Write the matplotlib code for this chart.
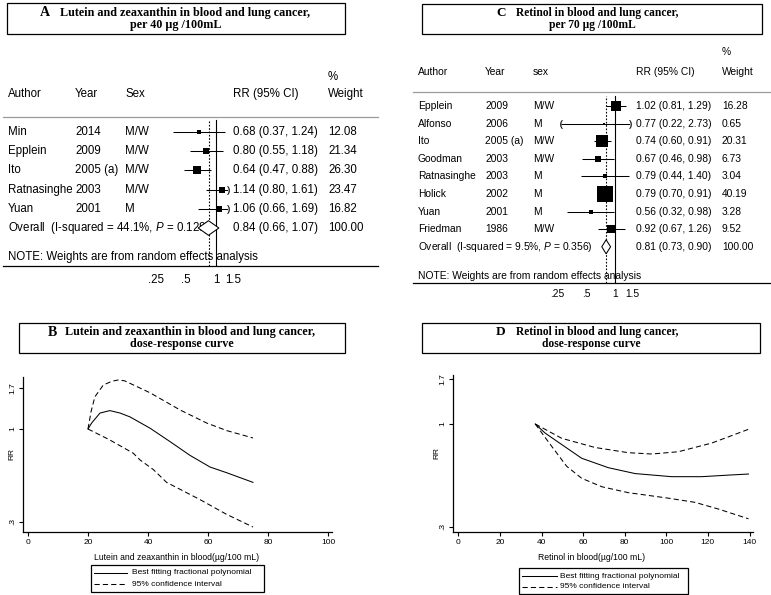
import numpy as np
import matplotlib

matplotlib.use("Agg")
import matplotlib.pyplot as plt
from matplotlib.patches import Rectangle
from matplotlib.ticker import NullLocator
from matplotlib.transforms import blended_transform_factory as blend

# ---- panel A: lutein/zeaxanthin forest plot ----
A_AUTHORS = ["Min", "Epplein", "Ito", "Ratnasinghe", "Yuan"]
A_YEARS = ["2014", "2009", "2005 (a)", "2003", "2001"]
A_SEX = ["M/W", "M/W", "M/W", "M/W", "M"]
A_RR = [0.68, 0.80, 0.64, 1.14, 1.06]
A_LO = [0.37, 0.55, 0.47, 0.80, 0.66]
A_HI = [1.24, 1.18, 0.88, 1.61, 1.69]
A_WEIGHT = [12.08, 21.34, 26.30, 23.47, 16.82]
A_OVERALL = [0.84, 0.66, 1.07]
A_I2, A_P = "44.1%", "0.128"

# ---- panel C: retinol forest plot ----
C_AUTHORS = ["Epplein", "Alfonso", "Ito", "Goodman", "Ratnasinghe", "Holick", "Yuan", "Friedman"]
C_YEARS = ["2009", "2006", "2005 (a)", "2003", "2003", "2002", "2001", "1986"]
C_SEX = ["M/W", "M", "M/W", "M/W", "M", "M", "M", "M/W"]
C_RR = [1.02, 0.77, 0.74, 0.67, 0.79, 0.79, 0.56, 0.92]
C_LO = [0.81, 0.22, 0.60, 0.46, 0.44, 0.70, 0.32, 0.67]
C_HI = [1.29, 2.73, 0.91, 0.98, 1.40, 0.91, 0.98, 1.26]
C_WEIGHT = [16.28, 0.65, 20.31, 6.73, 3.04, 40.19, 3.28, 9.52]
C_OVERALL = [0.81, 0.73, 0.90]
C_I2, C_P = "9.5%", "0.356"

FOREST_TICKS = [0.25, 0.5, 1, 1.5]
FOREST_TICK_LABELS = [".25", ".5", "1", "1.5"]

# ---- panel B: lutein/zeaxanthin dose-response ----
B_FIT_X = [20, 21.2, 24, 27.3, 30.7, 34, 40.7, 47.3, 54, 60.7, 66.2, 75]
B_FIT_RR = [1.0, 1.08, 1.23, 1.27, 1.23, 1.17, 1.01, 0.85, 0.71, 0.61, 0.567, 0.50]
B_UP_X = [20, 21, 22.3, 25.1, 28, 30.1, 32.2, 40.7, 50.7, 59.6, 66.2, 75]
B_UP_RR = [1.0, 1.25, 1.52, 1.77, 1.86, 1.89, 1.87, 1.60, 1.28, 1.08, 0.98, 0.89]
B_LO_X = [20, 27.3, 35.1, 37.3, 41.8, 46.2, 57.3, 66.2, 75]
B_LO_RR = [1.0, 0.867, 0.73, 0.67, 0.59, 0.50, 0.40, 0.33, 0.28]
B_XTICKS = [0, 20, 40, 60, 80, 100]

# ---- panel D: retinol dose-response ----
D_FIT_X = [37, 41.7, 46.5, 59.3, 72.1, 85, 102.6, 117, 129.8, 139.5]
D_FIT_RR = [1.0, 0.90, 0.83, 0.67, 0.60, 0.56, 0.54, 0.54, 0.55, 0.557]
D_UP_X = [37, 49.7, 65.7, 81.7, 93, 105.8, 121.8, 129.8, 139.5]
D_UP_RR = [1.0, 0.846, 0.76, 0.715, 0.704, 0.723, 0.80, 0.86, 0.94]
D_LO_X = [37, 44.9, 52.1, 59.3, 69, 81.7, 101, 113.8, 125, 139.5]
D_LO_RR = [1.0, 0.77, 0.61, 0.53, 0.48, 0.448, 0.42, 0.40, 0.37, 0.33]
D_XTICKS = [0, 20, 40, 60, 80, 100, 120, 140]

DR_YTICKS = [0.3, 1, 1.7]
DR_YTICK_LABELS = [".3", "1", "1.7"]

W, H = 771, 595
SERIF = "Liberation Serif"
DASH = (0, (5, 3))
SEP_GRAY = "#9a9a9a"

plt.rcParams.update({
    "font.family": ["Liberation Sans", "DejaVu Sans"],
    "mathtext.fontset": "custom",
    "mathtext.it": "Liberation Sans:italic",
    "mathtext.rm": "Liberation Sans",
})

fig = plt.figure(figsize=(W / 100, H / 100), dpi=100)
ov = fig.add_axes([0, 0, 1, 1])
ov.set_xlim(0, W)
ov.set_ylim(H, 0)
ov.axis("off")


def px_axes(x0, y0, x1, y1):
    ax = fig.add_axes([x0 / W, 1 - y1 / H, (x1 - x0) / W, (y1 - y0) / H])
    ax.patch.set_visible(False)
    return ax


def fit_width(t, width_px):
    r = fig.canvas.get_renderer()
    w = t.get_window_extent(r).width
    t.set_fontsize(t.get_fontsize() * width_px / w)
    return t.get_fontsize()


def title_box(box, letter, letter_x, line1, line1_x, line1_w, line2, y1, y2):
    x0, y0, x1, y1b = box
    ov.add_patch(Rectangle((x0, y0), x1 - x0, y1b - y0, fill=False, lw=0.9, ec="black"))
    t1 = ov.text(line1_x, y1, line1, family=SERIF, weight="bold", fontsize=9,
                 ha="left", va="center")
    fs = fit_width(t1, line1_w)
    ov.text(letter_x, y1, letter, family=SERIF, weight="bold", fontsize=fs * 1.15,
            ha="left", va="center")
    ov.text((x0 + x1) / 2, y2, line2, family=SERIF, weight="bold", fontsize=fs,
            ha="center", va="center")


def draw_forest(authors, years, sexes, rr, lo, hi, weights, overall, i2, pval, *,
                left, right, top, bottom, row0, row_step, one_px, px_per_ln,
                cols, pct_y, header_y, note_y, tick_y, line_x, fs, box_scale,
                sex_label, diamond_h):
    n = len(authors)
    ax = px_axes(left, top, right, bottom)
    ax.set_xscale("log")
    xlo = np.exp((left - one_px) / px_per_ln)
    xhi = np.exp((right - one_px) / px_per_ln)
    ax.set_xlim(xlo, xhi)
    ax.set_ylim((bottom - row0) / row_step, (top - row0) / row_step)
    ax.axis("off")

    ax.axvline(1, 0, 0.98, color="black", lw=0.8)
    ax.axvline(overall[0], 0, 0.98, color="black", lw=0.8, ls=(0, (1.5, 1.5)))

    # CIs running past the labelled range get clipped with a bracket at the edge
    for i in range(n):
        l, h = lo[i], hi[i]
        l_draw = xlo if l < FOREST_TICKS[0] else l
        h_draw = xhi if h > FOREST_TICKS[-1] else h
        ax.plot([l_draw, h_draw], [i, i], color="black", lw=0.75, solid_capstyle="butt")
        if l < FOREST_TICKS[0]:
            ax.plot(xlo, i, marker="$($", ms=6, color="black", mew=0.2, clip_on=False)
        if h > FOREST_TICKS[-1]:
            ax.plot(xhi, i, marker="$)$", ms=6, color="black", mew=0.2, clip_on=False)
        ax.plot(rr[i], i, marker="s", ms=box_scale * np.sqrt(weights[i]) * 0.72,
                color="black", mew=0)

    o, olo, ohi = overall
    ax.fill([olo, o, ohi, o], [n, n - diamond_h, n, n + diamond_h],
            fc="white", ec="black", lw=0.75, zorder=4)

    tr = blend(ov.transData, ax.transData)
    for i in range(n):
        ov.text(cols[0], i, authors[i], transform=tr, fontsize=fs, va="center")
        ov.text(cols[1], i, years[i], transform=tr, fontsize=fs, va="center")
        ov.text(cols[2], i, sexes[i], transform=tr, fontsize=fs, va="center")
        ov.text(cols[3], i, f"{rr[i]:.2f} ({lo[i]:.2f}, {hi[i]:.2f})",
                transform=tr, fontsize=fs, va="center")
        ov.text(cols[4], i, f"{weights[i]:.2f}", transform=tr, fontsize=fs, va="center")
    ov.text(cols[0], n, f"Overall  (I-squared = {i2}, $P$ = {pval})",
            transform=tr, fontsize=fs, va="center")
    ov.text(cols[3], n, f"{o:.2f} ({olo:.2f}, {ohi:.2f})", transform=tr,
            fontsize=fs, va="center")
    ov.text(cols[4], n, "100.00", transform=tr, fontsize=fs, va="center")

    for x, s in zip(cols, ["Author", "Year", sex_label, "RR (95% CI)", "Weight"]):
        ov.text(x, header_y, s, fontsize=fs, va="center")
    ov.text(cols[4], pct_y, "%", fontsize=fs, va="center")
    ov.text(cols[0], note_y, "NOTE: Weights are from random effects analysis",
            fontsize=fs, va="center")

    ov.plot(line_x, [top, top], color=SEP_GRAY, lw=0.9)
    ov.plot(line_x, [bottom, bottom], color="black", lw=0.9)

    ttr = blend(ax.transData, ov.transData)
    for v, lab in zip(FOREST_TICKS, FOREST_TICK_LABELS):
        ov.text(v, tick_y, lab, transform=ttr, fontsize=fs, ha="center", va="center")


def draw_dose(box, xlim, ylim, xticks, fit, upper, lower, *, ylabel_xy, xlabel,
              xlabel_xy, legend_box, legend_ys, handle_x, text_x):
    ax = px_axes(*box)
    ax.set_yscale("log")
    ax.set_xlim(*xlim)
    ax.set_ylim(*ylim)
    for s in ("top", "right"):
        ax.spines[s].set_visible(False)
    for s in ("left", "bottom"):
        ax.spines[s].set_linewidth(0.9)
    ax.set_xticks(xticks)
    ax.set_xticklabels([str(v) for v in xticks], fontsize=6)
    ax.set_yticks(DR_YTICKS)
    ax.set_yticklabels(DR_YTICK_LABELS, fontsize=6, rotation=90, va="center")
    ax.yaxis.set_minor_locator(NullLocator())
    ax.tick_params(length=3, width=0.8, pad=2)

    ax.plot(fit[0], fit[1], color="black", lw=0.75)
    ax.plot(upper[0], upper[1], color="black", lw=0.75, ls=DASH)
    ax.plot(lower[0], lower[1], color="black", lw=0.75, ls=DASH)

    ov.text(*ylabel_xy, "RR", fontsize=6, rotation=90, ha="center", va="center")
    ov.text(*xlabel_xy, xlabel, fontsize=6.2, ha="center", va="center")

    lx0, ly0, lx1, ly1 = legend_box
    ov.add_patch(Rectangle((lx0, ly0), lx1 - lx0, ly1 - ly0, fill=False, lw=0.9, ec="black"))
    ov.plot(handle_x, [legend_ys[0]] * 2, color="black", lw=0.75)
    ov.plot(handle_x, [legend_ys[1]] * 2, color="black", lw=0.75, ls=DASH)
    ov.text(text_x, legend_ys[0], "Best fitting fractional polynomial", fontsize=6, va="center")
    ov.text(text_x, legend_ys[1], "95% confidence interval", fontsize=6, va="center")


# titles
title_box((7, 3, 345, 34), "A", 40, "Lutein and zeaxanthin in blood and lung cancer,", 60, 250,
          "per 40 \u00b5g /100mL", 13, 25)
title_box((422, 4, 762, 34), "C", 496, "Retinol in blood and lung cancer,", 516, 162,
          "per 70 \u00b5g /100mL", 13, 25)
title_box((19, 323, 345, 353), "B", 48, "Lutein and zeaxanthin in blood and lung cancer,", 65, 250,
          "dose-response curve", 332, 344)
title_box((422, 323, 760, 353), "D", 496, "Retinol in blood and lung cancer,", 516, 162,
          "dose-response curve", 332, 344)

draw_forest(A_AUTHORS, A_YEARS, A_SEX, A_RR, A_LO, A_HI, A_WEIGHT, A_OVERALL, A_I2, A_P,
            left=140, right=228, top=117, bottom=266, row0=132, row_step=19.2,
            one_px=216, px_per_ln=43, cols=[8, 75, 125, 233, 328],
            pct_y=77, header_y=94, note_y=257, tick_y=280, line_x=[3, 378],
            fs=8.3, box_scale=1.4, sex_label="Sex", diamond_h=0.38)

draw_forest(C_AUTHORS, C_YEARS, C_SEX, C_RR, C_LO, C_HI, C_WEIGHT, C_OVERALL, C_I2, C_P,
            left=561, right=630, top=92, bottom=283, row0=106, row_step=17.6,
            one_px=615, px_per_ln=42, cols=[418, 485, 533, 636, 722],
            pct_y=52, header_y=72, note_y=276, tick_y=294, line_x=[413, 771],
            fs=7.4, box_scale=2.68, sex_label="sex", diamond_h=0.4)

draw_dose((23, 377, 332, 532), ((23 - 28) / 3, (332 - 28) / 3),
          (np.exp((429 - 532) / 77), np.exp((429 - 377) / 77)), B_XTICKS,
          (B_FIT_X, B_FIT_RR), (B_UP_X, B_UP_RR), (B_LO_X, B_LO_RR),
          ylabel_xy=(12, 454), xlabel="Lutein and zeaxanthin in blood(\u00b5g/100 mL)",
          xlabel_xy=(177, 557), legend_box=(91, 565, 264, 592), legend_ys=(572.5, 584.3),
          handle_x=[94, 127], text_x=132)

draw_dose((453, 375, 753, 532), ((453 - 458.3) / 2.08, (753 - 458.3) / 2.08),
          (np.exp((424 - 532) / 85.5), np.exp((424 - 375) / 85.5)), D_XTICKS,
          (D_FIT_X, D_FIT_RR), (D_UP_X, D_UP_RR), (D_LO_X, D_LO_RR),
          ylabel_xy=(437, 453), xlabel="Retinol in blood(\u00b5g/100 mL)",
          xlabel_xy=(592, 558), legend_box=(519, 568, 688, 594), legend_ys=(576, 587),
          handle_x=[522, 557], text_x=560)

fig.savefig("out.png", dpi=100)
